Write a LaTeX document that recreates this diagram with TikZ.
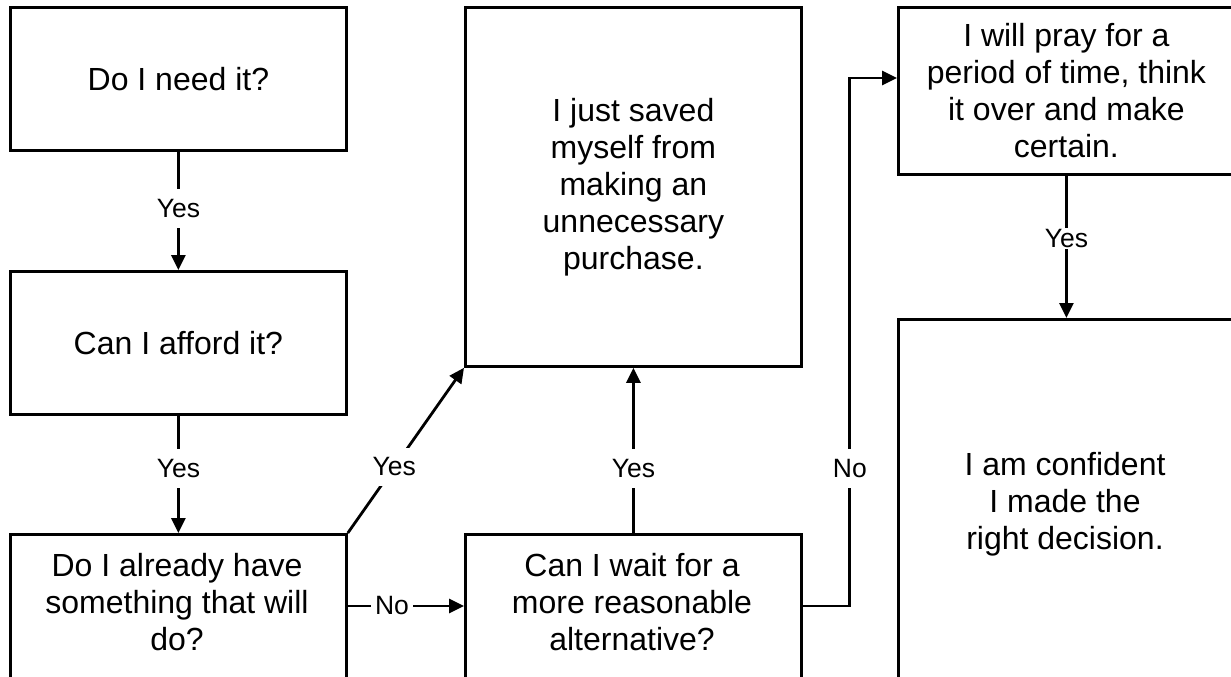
\documentclass[tikz,border=0pt]{standalone}
\usepackage{fontspec}
\setmainfont{Liberation Sans}
\usetikzlibrary{arrows.meta}
\begin{document}
\begin{tikzpicture}[x=1pt,y=-1pt,
  box/.style={draw,line width=2.8pt,minimum width=336pt,anchor=north west,inner sep=0pt},
  txt/.style={align=center,font=\fontsize{32}{37}\selectfont},
  lab/.style={fill=white,font=\fontsize{26.5}{30}\selectfont,inner xsep=4pt,inner ysep=10pt},
  conn/.style={line width=2.8pt},
  arr/.style={conn,-{Triangle[length=15pt,width=14pt]}}]
\clip (0,0) rectangle (1231,677);
\fill[white] (0,0) rectangle (1231,677);
% boxes
\node[box,minimum height=143pt,txt] (b1) at (9,6) {Do I need it?};
\node[box,minimum height=143pt,txt] (b2) at (9,270) {Can I afford it?};
\node[box,minimum height=190pt] (b3) at (9,533) {};
\node[box,minimum height=190pt] (b4) at (464,533) {};
\node[box,minimum height=359pt,txt] (b5) at (464,6) {I just saved\\myself from\\making an\\unnecessary\\purchase.};
\node[box,minimum height=167pt,txt] (b6) at (897,6) {I will pray for a\\period of time, think\\it over and make\\certain.};
\node[box,minimum height=400pt] (b7) at (897,318) {};
% texts of clipped boxes
\node[txt] (t3) at (177,602) {Do I already have\\something that will\\do?};
\node[txt] (t4) at (632,602) {Can I wait for a\\more reasonable\\alternative?};
\node[txt] (t7) at (1065,504) {I am confident\\I made the\\right decision.};
% connectors
\draw[arr] (b1.south) -- node[lab,pos=0.48]{Yes} (b2.north);
\draw[arr] (b2.south) -- node[lab,pos=0.45]{Yes} (b3.north);
\draw[arr] (b3.north east) -- node[lab,pos=0.4]{Yes} (b5.south west);
\draw[arr] (b4.north) -- node[lab,pos=0.39]{Yes} (b5.south);
\draw[arr] ([yshift=-73pt]b3.north east) -- node[lab,pos=0.38]{No} ([yshift=-73pt]b4.north west);
\draw[arr] ([yshift=-73pt]b4.north east) -- ++(47,0) -- node[lab,pos=0.26]{No} ++(0,-528) -- ([yshift=-72pt]b6.north west);
\draw[arr] (b6.south) -- node[lab,pos=0.44,inner ysep=1pt]{Yes} (b7.north);
\end{tikzpicture}
\end{document}
